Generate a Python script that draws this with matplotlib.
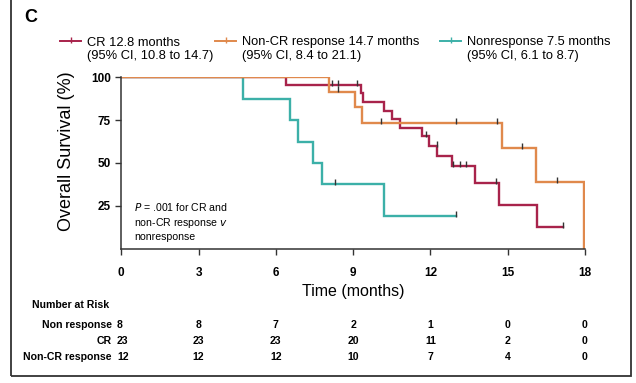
import numpy as np
import matplotlib.pyplot as plt
from matplotlib.lines import Line2D
from matplotlib.patches import Rectangle

plt.rcParams['font.family'] = ['Liberation Sans', 'DejaVu Sans']

# Kaplan-Meier steps (months, % surviving)
cr_t = [0, 6.39, 9.30, 9.40, 10.21, 10.50, 10.82, 11.66, 11.94, 12.27, 12.84, 13.72, 14.67, 16.14, 17.15]
cr_s = [100, 95.7, 90.6, 85.6, 80.5, 75.5, 70.5, 65.5, 60.0, 54.0, 48.0, 38.4, 25.6, 12.8, 12.8]
cr_cens_t = [8.16, 8.40, 9.16, 11.81, 12.24, 12.88, 13.14, 13.37, 14.54, 17.15]
cr_cens_s = [95.7, 95.7, 95.7, 65.5, 60.0, 48.0, 48.0, 48.0, 38.4, 12.8]

ncr_t = [0, 8.07, 9.07, 9.33, 14.78, 16.08, 17.97]
ncr_s = [100, 91.7, 82.5, 73.3, 58.7, 39.1, 0]
ncr_cens_t = [8.40, 10.10, 12.99, 14.59, 15.55, 16.90]
ncr_cens_s = [91.7, 73.3, 73.3, 73.3, 58.7, 39.1]

nr_t = [0, 4.71, 6.55, 6.87, 7.45, 7.81, 10.21, 12.99]
nr_s = [100, 87.5, 75, 62.5, 50, 37.5, 18.8, 18.8]
nr_cens_t = [8.29, 12.99]
nr_cens_s = [37.5, 18.8]

xticks = [0, 3, 6, 9, 12, 15, 18]
yticks = [25, 50, 75, 100]

risk_labels = ['Non response', 'CR', 'Non-CR response']
risk_nr = [8, 8, 7, 2, 1, 0, 0]
risk_cr = [23, 23, 23, 20, 11, 2, 0]
risk_ncr = [12, 12, 12, 10, 7, 4, 0]

legend_txt = ['CR 12.8 months\n(95% CI, 10.8 to 14.7)',
              'Non-CR response 14.7 months\n(95% CI, 8.4 to 21.1)',
              'Nonresponse 7.5 months\n(95% CI, 6.1 to 8.7)']

c_cr = '#a8234b'
c_ncr = '#e0894c'
c_nr = '#3cb0a8'

W, H = 636, 383
fig = plt.figure(figsize=(W / 100, H / 100), dpi=100)
ax = fig.add_axes([121.3 / W, 1 - 248.5 / H, 463.7 / W, 171.2 / H])

for t, s, ct, cs, c in [(nr_t, nr_s, nr_cens_t, nr_cens_s, c_nr),
                        (cr_t, cr_s, cr_cens_t, cr_cens_s, c_cr),
                        (ncr_t, ncr_s, ncr_cens_t, ncr_cens_s, c_ncr)]:
    ax.step(t, s, where='post', color=c, lw=1.7, solid_joinstyle='miter')
    ax.plot(ct, np.array(cs) + 1.2, ls='none', marker='|', ms=4, mew=1, color='#333333')

ax.set_xlim(0, 18)
ax.set_ylim(0, 100)
ax.set_xticks(xticks)
ax.set_yticks(yticks)
ax.tick_params(labelsize=8.5, length=4, width=1, colors='#333333', labelcolor='black')
for lab in ax.get_xticklabels() + ax.get_yticklabels():
    lab.set_fontweight('bold')
ax.tick_params(axis='x', pad=9)
ax.spines['top'].set_visible(False)
ax.spines['right'].set_visible(False)
ax.spines['left'].set_bounds(0, 100)
for sp in ['left', 'bottom']:
    ax.spines[sp].set_color('#333333')
    ax.spines[sp].set_linewidth(1.1)
ax.set_xlabel('Time (months)', fontsize=11.5, labelpad=4)
ax.set_ylabel('Overall Survival (%)', fontsize=13)
ax.yaxis.set_label_coords(-46 / 463.7, 0.57)

ax.text(0.5, 28, '$P$ = .001 for CR and\nnon-CR response $v$\nnonresponse', fontsize=7.6,
        va='top', ha='left', linespacing=1.3)

# legend drawn by hand
leg_x = [60, 215, 440]
for x0, txt, c in zip(leg_x, legend_txt, [c_cr, c_ncr, c_nr]):
    fig.add_artist(Line2D([x0 / W, (x0 + 21) / W], [1 - 41 / H] * 2, color=c, lw=1.4))
    fig.add_artist(Line2D([(x0 + 10.5) / W], [1 - 40 / H], marker='|', ms=4, color=c))
    fig.text((x0 + 27) / W, 1 - 36.5 / H, txt, fontsize=9.3, va='top', ha='left', linespacing=1.2)

fig.text(24 / W, 1 - 22 / H, 'C', fontsize=13, fontweight='bold', ha='left', va='baseline')

# number at risk table
fig.text(32 / W, 1 - 305 / H, 'Number at Risk', fontsize=7.6, fontweight='bold', va='center')
for i, (lab, row) in enumerate(zip(risk_labels, [risk_nr, risk_cr, risk_ncr])):
    y = 1 - (325 + 16 * i) / H
    fig.text(112 / W, y, lab, fontsize=7.6, fontweight='bold', ha='right', va='center')
    for k, (xt, n) in enumerate(zip(xticks, row)):
        xp = (121.3 + xt * 463.7 / 18) / W
        if k == 0:
            fig.text(117 / W, y, str(n), fontsize=7.6, fontweight='bold', ha='left', va='center')
        else:
            fig.text(xp, y, str(n), fontsize=7.6, fontweight='bold', ha='center', va='center')

fig.add_artist(Rectangle((11 / W, 1 - 376 / H), 620 / W, 376 / H + 0.01, fill=False,
                         ec='#333333', lw=1.3, transform=fig.transFigure))

fig.savefig('out.png', dpi=100)
